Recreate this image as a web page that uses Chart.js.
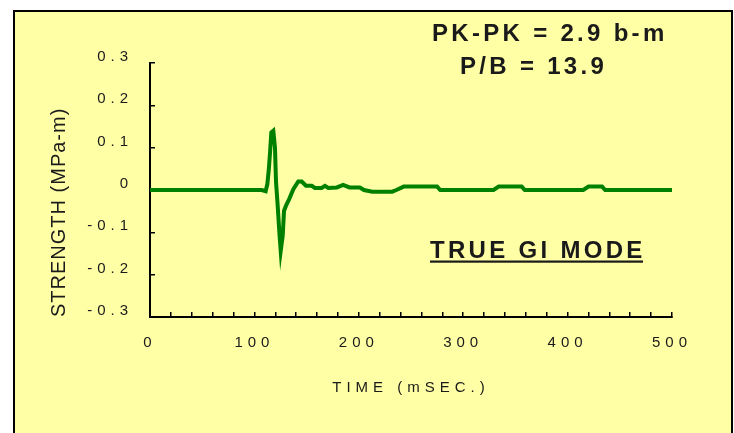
<!DOCTYPE html>
<html>
<head>
<meta charset="utf-8">
<script src="https://cdn.jsdelivr.net/npm/chart.js@4.4.1/dist/chart.umd.min.js"></script>
<style>
  html, body { margin: 0; padding: 0; background: #fff; }
  #wrap { position: relative; width: 734px; height: 433px; overflow: hidden; }
  #frame { position: absolute; left: 13px; top: 10px; width: 716px; height: 440px;
           background: #FFFFA6; border: 2px solid #000; }
  #myChart { position: absolute; left: 0; top: 0; }
</style>
</head>
<body>
<div id="wrap">
  <div id="frame"></div>
  <canvas id="myChart" width="734" height="433"></canvas>
</div>
<script>
// waveform (time in ms, strength in MPa-m)
const timeMs = [0, 107, 110.8, 112.4, 113.7, 115, 116.2, 118.1, 119.7, 120.7, 122.3, 123.9, 125.2,
  127.1, 128.4, 130.3, 133.4, 137.3, 142, 145.3, 149.4, 154.9, 158, 164.4, 167.6, 170.8, 179, 185,
  191, 201, 205, 213, 232, 236, 243, 275, 278, 329, 334, 356, 359, 415, 420, 433, 436, 500];
const strength = [0, 0, -0.003, 0.014, 0.046, 0.089, 0.136, 0.14, 0.10, 0.019, -0.037, -0.10, -0.144,
  -0.108, -0.049, -0.037, -0.021, 0.002, 0.02, 0.02, 0.01, 0.01, 0.005, 0.005, 0.01, 0.005, 0.006, 0.012,
  0.006, 0.006, 0, -0.004, -0.004, 0, 0.008, 0.008, 0, 0, 0.008, 0.008, 0, 0, 0.008, 0.008, 0, 0];

const xTickLabels = [0, 100, 200, 300, 400, 500];
const yTickLabels = ['-0.3', '-0.2', '-0.1', '0', '0.1', '0.2', '0.3'];

const noteLines = ['PK-PK = 2.9 b-m', 'P/B = 13.9'];
const modeLabel = 'TRUE GI MODE';

const points = timeMs.map((t, i) => ({ x: t, y: strength[i] }));
const textColor = '#1a1a1a';
const fontFam = '"Liberation Sans", Arial, sans-serif';

// letter spacing for the axis texts, and the notes drawn on top
const textPlugin = {
  id: 'textPlugin',
  beforeDraw(chart) { chart.ctx.letterSpacing = '1px'; },
  beforeDatasetsDraw(chart) { chart.ctx.letterSpacing = '0px'; },
  afterDatasetsDraw(chart) { chart.ctx.letterSpacing = '5px'; },
  afterDraw(chart) {
    const ctx = chart.ctx;
    ctx.save();
    ctx.fillStyle = textColor;
    ctx.textAlign = 'left';
    ctx.textBaseline = 'alphabetic';
    ctx.font = 'bold 24px ' + fontFam;
    ctx.letterSpacing = '3.3px';
    ctx.fillText(noteLines[0], 432, 41);
    ctx.fillText(noteLines[1], 460, 74);
    ctx.fillText(modeLabel, 430, 258);
    ctx.fillRect(430, 260.5, 213, 2.2);
    ctx.restore();
    ctx.letterSpacing = '0px';
  }
};

var ctx = document.getElementById('myChart').getContext('2d');
var myChart = new Chart(ctx, {
  type: 'line',
  data: {
    datasets: [{
      data: points,
      borderColor: '#008000',
      borderWidth: 4,
      pointRadius: 0,
      tension: 0,
      fill: false
    }]
  },
  options: {
    responsive: false,
    animation: false,
    devicePixelRatio: 1,
    layout: { padding: { left: 0, top: 63, right: 62, bottom: 36 } },
    plugins: { legend: { display: false }, tooltip: { enabled: false } },
    scales: {
      x: {
        type: 'linear',
        min: 0,
        max: 500,
        afterFit: (s) => { s.height = 80; s.paddingLeft = 0; s.paddingRight = 0; },
        grid: { drawOnChartArea: false, tickLength: -5, color: '#000', lineWidth: 1.5, z: 1 },
        border: { color: '#000', width: 2, z: 1 },
        ticks: {
          stepSize: 20,
          autoSkip: false,
          maxRotation: 0,
          padding: 22,
          z: 2,
          color: textColor,
          font: { family: fontFam, size: 15 },
          callback: (v) => xTickLabels.includes(v) ? String(v) : ''
        },
        title: {
          display: true,
          text: 'TIME (mSEC.)',
          color: textColor,
          padding: { top: 0, bottom: 0 },
          font: { family: fontFam, size: 15 }
        }
      },
      y: {
        min: -0.3,
        max: 0.3,
        afterFit: (s) => { s.width = 150; s.paddingTop = 0; s.paddingBottom = 0; },
        grid: { drawOnChartArea: false, tickLength: -5, color: '#000', lineWidth: 1.5 },
        border: { color: '#000', width: 2 },
        ticks: {
          stepSize: 0.1,
          padding: 22,
          labelOffset: -6,
          z: 2,
          color: textColor,
          font: { family: fontFam, size: 15 },
          callback: (v) => yTickLabels[Math.round(v * 10) + 3]
        },
        title: {
          display: true,
          text: 'STRENGTH (MPa-m)',
          align: 'start',
          color: textColor,
          padding: { top: 47, bottom: 0 },
          font: { family: fontFam, size: 20 }
        }
      }
    }
  },
  plugins: [textPlugin]
});
</script>
</body>
</html>
